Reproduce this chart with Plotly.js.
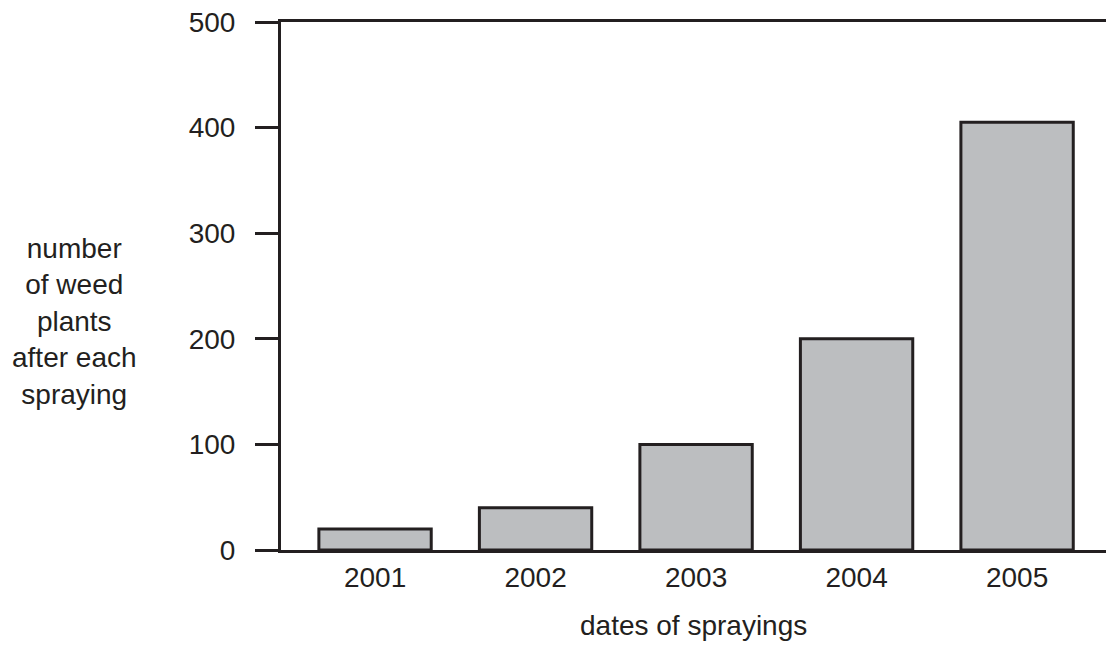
<!DOCTYPE html>
<html>
<head>
<meta charset="utf-8">
<script src="https://cdn.plot.ly/plotly-3.0.1.min.js"></script>
<style>html,body{margin:0;padding:0;background:#fff;}#chart{width:1106px;height:646px;}</style>
</head>
<body>
<div id="chart"></div>
<script>
const years = ["2001", "2002", "2003", "2004", "2005"];
const weedPlants = [20, 40, 100, 200, 405];
const yTicks = [0, 100, 200, 300, 400, 500];
const yTitleLines = ["number", "of weed", "plants", "after each", "spraying"];
const xTitle = "dates of sprayings";

const ink = "#231f20";
const font = {family: "Liberation Sans, Arial, sans-serif", size: 28, color: ink};

const trace = {
  type: "bar",
  x: years,
  y: weedPlants,
  width: 0.7,
  marker: {color: "#bcbec0", line: {color: ink, width: 3}},
  hoverinfo: "skip"
};

const layout = {
  width: 1106, height: 646,
  margin: {l: 281, r: 0, t: 22, b: 96, pad: 0},
  paper_bgcolor: "#fff", plot_bgcolor: "#fff",
  font: font,
  showlegend: false,
  xaxis: {
    type: "category",
    range: [-0.586, 4.554],
    showline: true, linecolor: ink, linewidth: 3, mirror: true,
    ticks: "", showgrid: false, zeroline: false,
    tickfont: font
  },
  yaxis: {
    range: [0, 500],
    tickvals: yTicks,
    ticktext: yTicks.map(String),
    showline: true, linecolor: ink, linewidth: 3,
    ticks: "outside", ticklen: 23, tickwidth: 3, tickcolor: ink,
    ticklabelstandoff: 14,
    showgrid: false, zeroline: false,
    tickfont: font
  },
  annotations: [{
    xref: "paper", yref: "paper",
    x: -0.250, y: 0.432, xanchor: "center", yanchor: "middle",
    text: yTitleLines.join("<br>"),
    showarrow: false, align: "center",
    font: font
  }, {
    xref: "paper", yref: "paper",
    x: 0.5, y: -0.143, xanchor: "center", yanchor: "middle",
    text: xTitle,
    showarrow: false,
    font: font
  }]
};

Plotly.newPlot("chart", [trace], layout, {staticPlot: true, displayModeBar: false});
</script>
</body>
</html>
